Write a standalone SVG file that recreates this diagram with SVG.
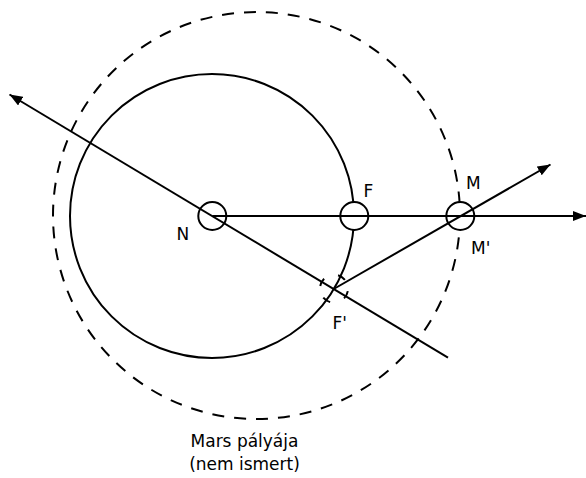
<svg xmlns="http://www.w3.org/2000/svg" width="586" height="478" viewBox="0 0 586 478">
  <style>
    .ln { fill: none; stroke: #000; stroke-width: 2; }
    .dash { stroke-dasharray: 12 10; }
    .pt { fill: #fff; stroke: #000; stroke-width: 2; }
    .lbl { font-family: "DejaVu Sans", "Liberation Sans", sans-serif; font-size: 17px; fill: #000; }
  </style>
  <defs>
    <marker id="arrow" markerUnits="userSpaceOnUse" markerWidth="14" markerHeight="10" refX="13" refY="5" orient="auto">
      <path d="M0,0 L13,5 L0,10 z" fill="#000"/>
    </marker>
  </defs>
  <rect width="586" height="478" fill="#fff"/>

  <g id="earth-orbit">
    <circle class="ln" cx="212" cy="216" r="142"/>
  </g>
  <g id="mars-orbit">
    <circle class="ln dash" cx="256.5" cy="215.5" r="203.5"/>
    <text class="lbl" x="244.5" y="446.5" text-anchor="middle">Mars pályája</text>
    <text class="lbl" x="244.5" y="470" text-anchor="middle">(nem ismert)</text>
  </g>

  <g id="node-N">
    <circle class="pt" cx="212.3" cy="216" r="14"/>
    <text class="lbl" x="176.5" y="240">N</text>
  </g>
  <g id="node-F">
    <circle class="pt" cx="354.3" cy="216" r="14"/>
    <text class="lbl" x="363.5" y="196.5">F</text>
  </g>
  <g id="node-M">
    <circle class="pt" cx="460.3" cy="216" r="14"/>
    <text class="lbl" x="466" y="188.5">M</text>
    <text class="lbl" x="471" y="253.5">M'</text>
  </g>

  <g id="connectors">
    <line class="ln" x1="212.3" y1="216" x2="586" y2="216" marker-end="url(#arrow)"/>
    <line class="ln" x1="448" y1="357.6" x2="9.5" y2="94.5" marker-end="url(#arrow)"/>
    <line class="ln" x1="333.7" y1="289" x2="550.5" y2="164.5" marker-end="url(#arrow)"/>
  </g>

  <g id="node-F-prime">
    <path class="ln" d="M347.79,291.13 A14,14 0 0 1 344.07,298.43 M330.14,302.16 A14,14 0 0 1 323.28,297.70 M320.26,286.03 A14,14 0 0 1 324.10,278.80 M338.09,275.31 A14,14 0 0 1 344.88,279.89"/>
    <text class="lbl" x="332.5" y="329">F'</text>
  </g>
</svg>
